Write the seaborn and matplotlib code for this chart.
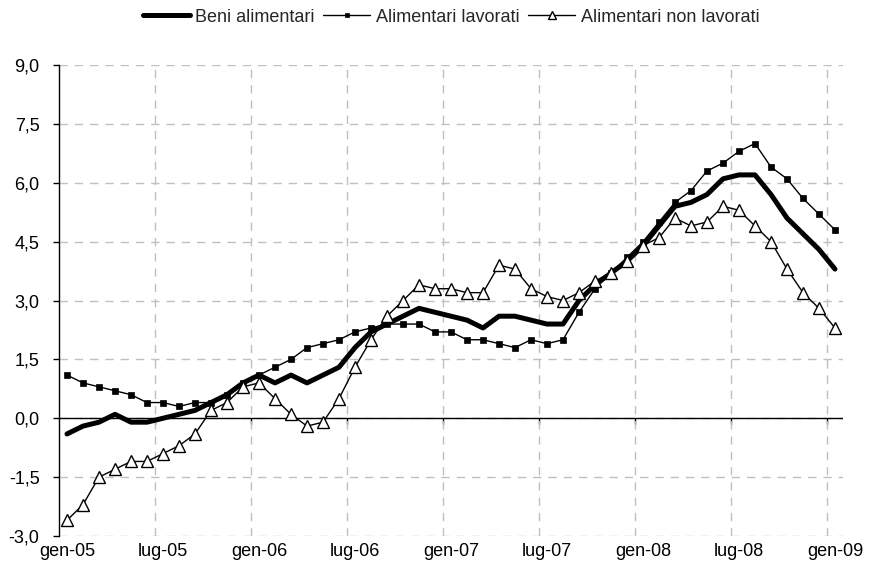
import matplotlib
matplotlib.use('Agg')
import matplotlib.pyplot as plt
import matplotlib.ticker as mticker
import numpy as np
import pandas as pd
import seaborn as sns

# Monthly series, gen-05 .. gen-09 (annual % changes)
months = pd.date_range('2005-01-01', periods=49, freq='MS')

beni_alimentari = [-0.4, -0.2, -0.1, 0.1, -0.1, -0.1, 0.0, 0.1, 0.2, 0.4,
                   0.6, 0.9, 1.1, 0.9, 1.1, 0.9, 1.1, 1.3, 1.8, 2.2,
                   2.4, 2.6, 2.8, 2.7, 2.6, 2.5, 2.3, 2.6, 2.6, 2.5,
                   2.4, 2.4, 3.0, 3.4, 3.7, 4.0, 4.4, 4.9, 5.4, 5.5,
                   5.7, 6.1, 6.2, 6.2, 5.7, 5.1, 4.7, 4.3, 3.8]

alimentari_lavorati = [1.1, 0.9, 0.8, 0.7, 0.6, 0.4, 0.4, 0.3, 0.4, 0.4,
                       0.6, 0.9, 1.1, 1.3, 1.5, 1.8, 1.9, 2.0, 2.2, 2.3,
                       2.4, 2.4, 2.4, 2.2, 2.2, 2.0, 2.0, 1.9, 1.8, 2.0,
                       1.9, 2.0, 2.7, 3.3, 3.7, 4.1, 4.5, 5.0, 5.5, 5.8,
                       6.3, 6.5, 6.8, 7.0, 6.4, 6.1, 5.6, 5.2, 4.8]

alimentari_non_lavorati = [-2.6, -2.2, -1.5, -1.3, -1.1, -1.1, -0.9, -0.7, -0.4, 0.2,
                           0.4, 0.8, 0.9, 0.5, 0.1, -0.2, -0.1, 0.5, 1.3, 2.0,
                           2.6, 3.0, 3.4, 3.3, 3.3, 3.2, 3.2, 3.9, 3.8, 3.3,
                           3.1, 3.0, 3.2, 3.5, 3.7, 4.0, 4.4, 4.6, 5.1, 4.9,
                           5.0, 5.4, 5.3, 4.9, 4.5, 3.8, 3.2, 2.8, 2.3]

series_names = ['Beni alimentari', 'Alimentari lavorati', 'Alimentari non lavorati']
tick_labels = ['gen-05', 'lug-05', 'gen-06', 'lug-06', 'gen-07',
               'lug-07', 'gen-08', 'lug-08', 'gen-09']
y_ticks = [-3.0, -1.5, 0.0, 1.5, 3.0, 4.5, 6.0, 7.5, 9.0]

df = pd.DataFrame({
    'pos': np.arange(len(months)),
    series_names[0]: beni_alimentari,
    series_names[1]: alimentari_lavorati,
    series_names[2]: alimentari_non_lavorati,
})

sns.set_style('white')
plt.rcParams['font.family'] = ['Liberation Sans', 'DejaVu Sans']

fig = plt.figure(figsize=(8.69, 5.68), dpi=100)
ax = fig.add_axes([59 / 869, 1 - 536 / 568, 784 / 869, 471 / 568])

sns.lineplot(data=df, x='pos', y=series_names[0], ax=ax, color='black',
             linewidth=3.6, label=series_names[0], zorder=3)
sns.lineplot(data=df, x='pos', y=series_names[1], ax=ax, color='black',
             linewidth=1.0, marker='s', markersize=5, markerfacecolor='black',
             markeredgecolor='black', markeredgewidth=0.5,
             label=series_names[1], zorder=4)
sns.lineplot(data=df, x='pos', y=series_names[2], ax=ax, color='black',
             linewidth=1.0, marker='^', markersize=9, markerfacecolor='white',
             markeredgecolor='black', markeredgewidth=1.0,
             label=series_names[2], zorder=5)

n = len(months)
ax.set_xlim(-0.5, n - 0.5)
ax.set_ylim(-3, 9)

# category labels every 6 months, gridlines on the category boundaries
ax.set_xticks(np.arange(0, n, 6))
ax.set_xticklabels(tick_labels)
ax.set_xticks(np.arange(5.5, n - 1, 6), minor=True)
ax.tick_params(axis='x', which='both', length=0, pad=5, labelsize=13, colors='black')

ax.set_yticks(y_ticks)
ax.yaxis.set_major_formatter(mticker.FuncFormatter(lambda v, p: f'{v:.1f}'.replace('.', ',')))
ax.tick_params(axis='y', direction='out', length=4, width=1, pad=10,
               labelsize=13, colors='black', left=True)

ax.grid(False)
ax.grid(axis='y', which='major', color='#c0c0c0', linestyle=(0, (6, 5)), linewidth=1)
ax.grid(axis='x', which='minor', color='#c0c0c0', linestyle=(0, (6, 5)), linewidth=1)
ax.set_axisbelow(True)

for side in ['top', 'right', 'bottom']:
    ax.spines[side].set_visible(False)
ax.spines['left'].set_color('black')
ax.spines['left'].set_linewidth(1)

# horizontal axis crossing at zero, with its small tick marks
ax.axhline(0, color='black', linewidth=1, zorder=2)
secax = ax.secondary_xaxis(0.25)
secax.set_xticks(np.arange(5.5, n, 6))
secax.set_xticklabels([])
secax.tick_params(axis='x', direction='out', length=4, width=1, colors='black')
for s in secax.spines.values():
    s.set_visible(False)

ax.set_xlabel('')
ax.set_ylabel('')

handles, labels = ax.get_legend_handles_labels()
ax.get_legend().remove()
fig.legend(handles, labels, loc='center', bbox_to_anchor=(451 / 869, 1 - 17 / 568),
           ncol=3, frameon=False, fontsize=13, handlelength=2.6,
           handletextpad=0.3, columnspacing=0.5, markerscale=0.7)

fig.savefig('out.png', dpi=100)
